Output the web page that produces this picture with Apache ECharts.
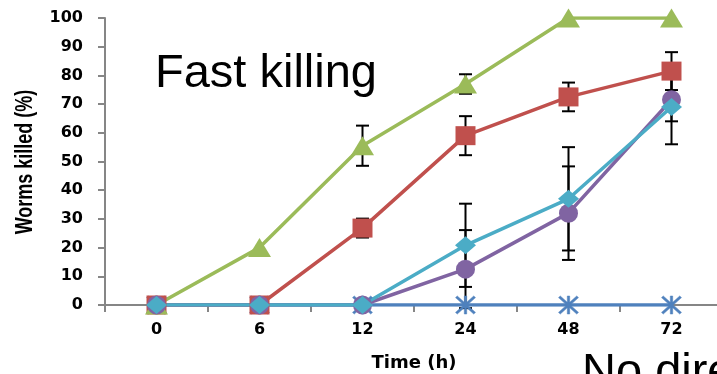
<!DOCTYPE html>
<html>
<head>
<meta charset="utf-8">
<script src="https://cdn.jsdelivr.net/npm/echarts@6/dist/echarts.min.js"></script>
<style>
html,body{margin:0;padding:0;background:#fff;}
#chart{width:717px;height:374px;}
</style>
</head>
<body>
<div id="chart"></div>
<script>
const categories = ['0', '6', '12', '24', '48', '72'];
const yTicks = [0, 10, 20, 30, 40, 50, 60, 70, 80, 90, 100];

const blueValues   = [0, 0, 0, 0, 0, 0];
const redValues    = [0, 0, 26.8, 59, 72.5, 81.5];
const redErr       = [0, 0, 3.3, 6.8, 5, 6.6];
const greenValues  = [0, 20, 55.5, 77, 100, 100];
const greenErr     = [0, 0, 7, 3.4, 0, 0];
const purpleValues = [0, 0, 0, 12.5, 32, 71.5];
const purpleErr    = [0, 0, 0, 13.6, 16.3, 7.5];
const cyanValues   = [0, 0, 0, 20.8, 37, 69];
const cyanErr      = [0, 0, 0, 14.5, 18, 13];

const chart = echarts.init(document.getElementById('chart'));

const asterisk = 'path://M4.4,0L5.6,0L5.6,10L4.4,10Z M0,0.9L0.9,0L10,9.1L9.1,10Z M9.1,0L10,0.9L0.9,10L0,9.1Z';

function errData(vals, errs) {
  const out = [];
  vals.forEach((v, i) => { if (errs[i] > 0) out.push([i, v, errs[i]]); });
  return out;
}
const allErr = []
  .concat(errData(redValues, redErr))
  .concat(errData(greenValues, greenErr))
  .concat(errData(purpleValues, purpleErr))
  .concat(errData(cyanValues, cyanErr));

function lineSeries(name, values, color, symbol, size) {
  return {
    name, type: 'line', data: values, z: 3,
    symbol, symbolSize: size, showAllSymbol: true,
    lineStyle: { color, width: 3.5 },
    itemStyle: { color, borderColor: color, borderWidth: symbol === asterisk ? 0.5 : 0 },
    emphasis: { disabled: true },
    animation: false
  };
}

const option = {
  animation: false,
  grid: { left: 105, top: 18, width: 618, height: 287, outerBoundsMode: 'none', containLabel: false },
  xAxis: {
    type: 'category',
    data: categories,
    boundaryGap: true,
    axisLine: { lineStyle: { color: '#868686', width: 2 } },
    axisTick: { show: true, length: 7, lineStyle: { color: '#868686', width: 2 } },
    axisLabel: { color: '#000', fontFamily: 'DejaVu Sans', fontWeight: 'bold', fontSize: 16, margin: 17 }
  },
  yAxis: {
    type: 'value',
    min: 0, max: 100, interval: 10,
    axisLine: { show: true, lineStyle: { color: '#868686', width: 2 } },
    axisTick: { show: true, length: 7, lineStyle: { color: '#868686', width: 2 } },
    splitLine: { show: false },
    axisLabel: {
      color: '#000', fontFamily: 'DejaVu Sans', fontWeight: 'bold', fontSize: 16, margin: 22,
      formatter: v => (yTicks.indexOf(v) >= 0 ? String(v) : '')
    }
  },
  series: [
    {
      type: 'custom', z: 1, data: allErr, animation: false,
      renderItem: function (params, api) {
        const x = api.value(0), v = api.value(1), e = api.value(2);
        const top = api.coord([x, v + e]);
        const bot = api.coord([x, v - e]);
        const w = 6.5;
        const st = { stroke: '#000', lineWidth: 2 };
        return {
          type: 'group',
          children: [
            { type: 'line', shape: { x1: top[0], y1: top[1], x2: bot[0], y2: bot[1] }, style: st },
            { type: 'line', shape: { x1: top[0] - w, y1: top[1], x2: top[0] + w, y2: top[1] }, style: st },
            { type: 'line', shape: { x1: bot[0] - w, y1: bot[1], x2: bot[0] + w, y2: bot[1] }, style: st }
          ]
        };
      }
    },
    lineSeries('blue', blueValues, '#4F81BD', asterisk, [20, 18]),
    lineSeries('red', redValues, '#C0504D', 'rect', [20, 19]),
    lineSeries('green', greenValues, '#9BBB59', 'triangle', [23, 19]),
    lineSeries('purple', purpleValues, '#8064A2', 'circle', 19),
    lineSeries('cyan', cyanValues, '#4BACC6', 'diamond', [21, 18])
  ],
  graphic: [
    { type: 'text', x: 155, y: 51, z: 10,
      style: { text: 'Fast killing', font: '47px "Liberation Sans"', fill: '#000', verticalAlign: 'top' } },
    { type: 'text', x: 582, y: 350, z: 10,
      style: { text: 'No direct killing', font: '47px "Liberation Sans"', fill: '#000', verticalAlign: 'top' } },
    { type: 'text', x: 25, y: 162, rotation: Math.PI / 2, scaleX: 0.75, z: 10,
      style: { text: 'Worms killed (%)', font: 'bold 24px "Liberation Sans"', fill: '#000', align: 'center', verticalAlign: 'middle' } },
    { type: 'text', x: 414, y: 364, scaleX: 1.06, z: 10,
      style: { text: 'Time (h)', font: 'bold 17px "DejaVu Sans"', fill: '#000', align: 'center', verticalAlign: 'middle' } }
  ]
};
chart.setOption(option);
</script>
</body>
</html>
